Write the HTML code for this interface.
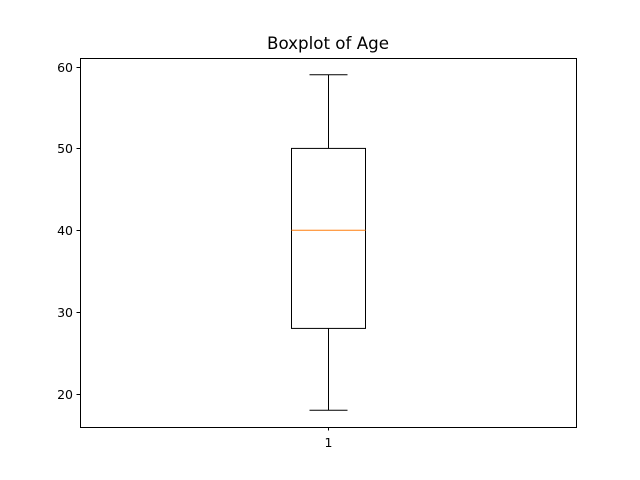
<!DOCTYPE html>
<html><head><meta charset="utf-8"><style>body{margin:0;background:#fff}svg{display:block}</style></head>
<body>
<svg width="640" height="480" xmlns="http://www.w3.org/2000/svg" font-family="'DejaVu Sans', 'Liberation Sans', sans-serif">
<rect width="640" height="480" fill="#fff"/>
<text x="328" y="49" text-anchor="middle" font-size="16.7">Boxplot of Age</text>
<g id="plot"></g>
<rect x="80.5" y="58.5" width="496" height="369" fill="none" stroke="#000" stroke-width="1"/>
</svg>
<script>
const categories = ["1"];
const whiskerLow = [18];
const q1 = [28];
const median = [40];
const q3 = [50];
const whiskerHigh = [59];
const yTicks = [20, 30, 40, 50, 60];

const x0 = 80, x1 = 576, yTop = 58, yBot = 427;
const yMin = 15.95, yMax = 61.05;
const Y = v => yBot - (v - yMin) / (yMax - yMin) * (yBot - yTop);
const X = i => x0 + (i + 1) / (categories.length + 1) * (x1 - x0);
const NS = "http://www.w3.org/2000/svg";
const g = document.getElementById("plot");
function mk(tag, attrs) { const e = document.createElementNS(NS, tag); for (const k in attrs) e.setAttribute(k, attrs[k]); g.appendChild(e); return e; }

yTicks.forEach(t => {
  const y = Math.round(Y(t)) + 0.5;
  const l = mk("line", {x1: x0 - 3.5, x2: x0, y1: y, y2: y, stroke: "#000"});
  
  
  const tx = mk("text", {x: x0 - 7, y: y + 4.5, "text-anchor": "end", "font-size": "12.5"});
  tx.textContent = t;
  
  
});

categories.forEach((c, i) => {
  const cx = Math.round(X(i)) + 0.5;
  const bw = 74, cw = 38;
  const tk = mk("line", {x1: cx, x2: cx, y1: yBot, y2: yBot + 3.5, stroke: "#000"});
  
  
  const tl = mk("text", {x: cx, y: yBot + 20, "text-anchor": "middle", "font-size": "12.5"});
  tl.textContent = c;
  
  
  const wl = mk("line", {x1: cx, x2: cx, y1: Y(q1[i]), y2: Y(whiskerLow[i]), stroke: "#000"});
  
  
  const wh = mk("line", {x1: cx, x2: cx, y1: Y(q3[i]), y2: Y(whiskerHigh[i]), stroke: "#000"});
  
  
  const cl = mk("line", {x1: cx - cw/2, x2: cx + cw/2, y1: Y(whiskerLow[i]), y2: Y(whiskerLow[i]), stroke: "#000"});
  
  
  const ch = mk("line", {x1: cx - cw/2, x2: cx + cw/2, y1: Y(whiskerHigh[i]), y2: Y(whiskerHigh[i]), stroke: "#000"});
  
  
  const b = mk("rect", {x: cx - bw/2, y: Y(q3[i]), width: bw, height: Y(q1[i]) - Y(q3[i]), fill: "none", stroke: "#000"});
  
  
  const m = mk("line", {x1: cx - bw/2, x2: cx + bw/2, y1: Y(median[i]), y2: Y(median[i]), stroke: "#ff7f0e"});
  
  
});
</script>
</body></html>
